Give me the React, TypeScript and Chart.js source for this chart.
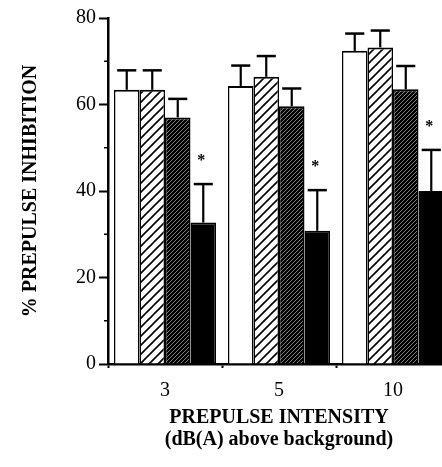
import React, { useEffect, useRef } from "react";
import { Chart, registerables } from "chart.js";

Chart.register(...registerables);

const categories = ["3", "5", "10"];
const seriesNames = ["Group A", "Group B", "Group C", "Group D"];
const whiteValues = [63.4, 64.3, 72.4];
const hatchedValues = [63.4, 66.4, 73.2];
const darkValues = [57.0, 59.6, 63.5];
const blackValues = [32.7, 30.8, 40.0];
const whiteErr = [4.5, 4.7, 4.0];
const hatchedErr = [4.5, 4.8, 3.9];
const darkErr = [4.3, 4.1, 5.4];
const blackErr = [8.9, 9.4, 9.5];
const blackStars = [true, true, true];
const yTicks = [0, 20, 40, 60, 80];
const yMinorTicks = [10, 30, 50, 70];

const SERIF = "'Liberation Serif', 'Times New Roman', serif";

function makePattern(size: number, bg: string, fg: string, lw: number): CanvasPattern | string {
  const c = document.createElement("canvas");
  c.width = size;
  c.height = size;
  const g = c.getContext("2d");
  if (!g) return bg;
  g.fillStyle = bg;
  g.fillRect(0, 0, size, size);
  g.strokeStyle = fg;
  g.lineWidth = lw;
  g.beginPath();
  g.moveTo(-1, size + 1);
  g.lineTo(size + 1, -1);
  g.moveTo(-2, 2);
  g.lineTo(2, -2);
  g.moveTo(size - 2, size + 2);
  g.lineTo(size + 2, size - 2);
  g.stroke();
  const p = g.createPattern(c, "repeat");
  return p || bg;
}

export default function App() {
  const ref = useRef<HTMLCanvasElement | null>(null);

  useEffect(() => {
    if (!ref.current) return;
    const hatch = makePattern(9, "#ffffff", "#000000", 1.6);
    const dark = makePattern(4, "#000000", "#8c8c8c", 0.9);
    const errs = [whiteErr, hatchedErr, darkErr, blackErr];

    const errorPlugin = {
      id: "errorBars",
      afterDatasetsDraw(chart: any) {
        const ctx = chart.ctx;
        const yScale = chart.scales.y;
        ctx.save();
        ctx.strokeStyle = "#000";
        chart.data.datasets.forEach((ds: any, i: number) => {
          const meta = chart.getDatasetMeta(i);
          meta.data.forEach((el: any, j: number) => {
            const v = ds.data[j];
            const top = yScale.getPixelForValue(v + errs[i][j]);
            const base = yScale.getPixelForValue(v);
            const capW = el.width * 0.75;
            ctx.lineWidth = 2.2;
            ctx.beginPath();
            ctx.moveTo(el.x, base);
            ctx.lineTo(el.x, top);
            ctx.stroke();
            ctx.lineWidth = 2.5;
            ctx.beginPath();
            ctx.moveTo(el.x - capW / 2, top);
            ctx.lineTo(el.x + capW / 2, top);
            ctx.stroke();
            if (i === 3 && blackStars[j]) {
              ctx.fillStyle = "#000";
              ctx.font = "bold 16px " + SERIF;
              ctx.textAlign = "center";
              ctx.textBaseline = "middle";
              ctx.fillText("*", el.x - 2, top - 23);
            }
          });
        });
        // minor y ticks
        const left = chart.chartArea.left;
        ctx.lineWidth = 1.5;
        yMinorTicks.forEach((v) => {
          const y = yScale.getPixelForValue(v);
          ctx.beginPath();
          ctx.moveTo(left - 4, y);
          ctx.lineTo(left, y);
          ctx.stroke();
        });
        ctx.restore();
      },
    };

    const chart = new Chart(ref.current, {
      type: "bar",
      data: {
        labels: categories,
        datasets: [
          { label: seriesNames[0], data: whiteValues, backgroundColor: "#ffffff" },
          { label: seriesNames[1], data: hatchedValues, backgroundColor: hatch as any },
          { label: seriesNames[2], data: darkValues, backgroundColor: dark as any },
          { label: seriesNames[3], data: blackValues, backgroundColor: "#000000" },
        ].map((d) => ({
          ...d,
          borderColor: "#000000",
          borderWidth: { top: 2, left: 1.5, right: 1.5, bottom: 0 },
          borderSkipped: false,
          categoryPercentage: 0.895,
          barPercentage: 1,
        })) as any,
      },
      options: {
        animation: false,
        responsive: false,
        devicePixelRatio: 1,
        layout: { padding: { top: 18, left: 0, right: 2, bottom: 0 } },
        plugins: { legend: { display: false }, tooltip: { enabled: false } },
        scales: {
          x: {
            type: "category",
            offset: true,
            grid: {
              drawOnChartArea: false,
              drawTicks: true,
              tickLength: 4,
              tickWidth: 2,
              tickColor: "#000",
              offset: true,
            },
            border: { display: true, color: "#000", width: 2.5 },
            ticks: {
              color: "#000",
              font: { family: SERIF, size: 20 },
              padding: 11,
            },
            title: {
              display: true,
              text: ["PREPULSE INTENSITY", "(dB(A) above background)"],
              color: "#000",
              font: { family: SERIF, size: 20, weight: "bold", lineHeight: 1.1 },
              padding: { top: 0, bottom: 16 },
            },
            afterFit: (scale: any) => {
              scale.height = 103;
            },
          },
          y: {
            min: 0,
            max: 80,
            afterBuildTicks: (scale: any) => {
              scale.ticks = yTicks.map((v) => ({ value: v }));
            },
            grid: {
              drawOnChartArea: false,
              drawTicks: true,
              tickLength: 9,
              tickWidth: 2,
              tickColor: "#000",
            },
            border: { display: true, color: "#000", width: 2.5 },
            ticks: {
              color: "#000",
              font: { family: SERIF, size: 20 },
              padding: 3,
            },
            title: {
              display: true,
              text: "% PREPULSE INHIBITION",
              color: "#000",
              font: { family: SERIF, size: 20, weight: "bold", lineHeight: 1.1 },
              padding: { top: 20, bottom: 0 },
            },
            afterFit: (scale: any) => {
              scale.width = 108;
            },
          },
        },
      },
      plugins: [errorPlugin],
    });
    return () => chart.destroy();
  }, []);

  return (
    <div
      style={{
        position: "fixed",
        left: 0,
        top: 0,
        width: 442,
        height: 467,
        overflow: "hidden",
        background: "#fff",
      }}
    >
      <canvas ref={ref} width={452} height={467} style={{ display: "block", width: 452, height: 467 }} />
    </div>
  );
}
